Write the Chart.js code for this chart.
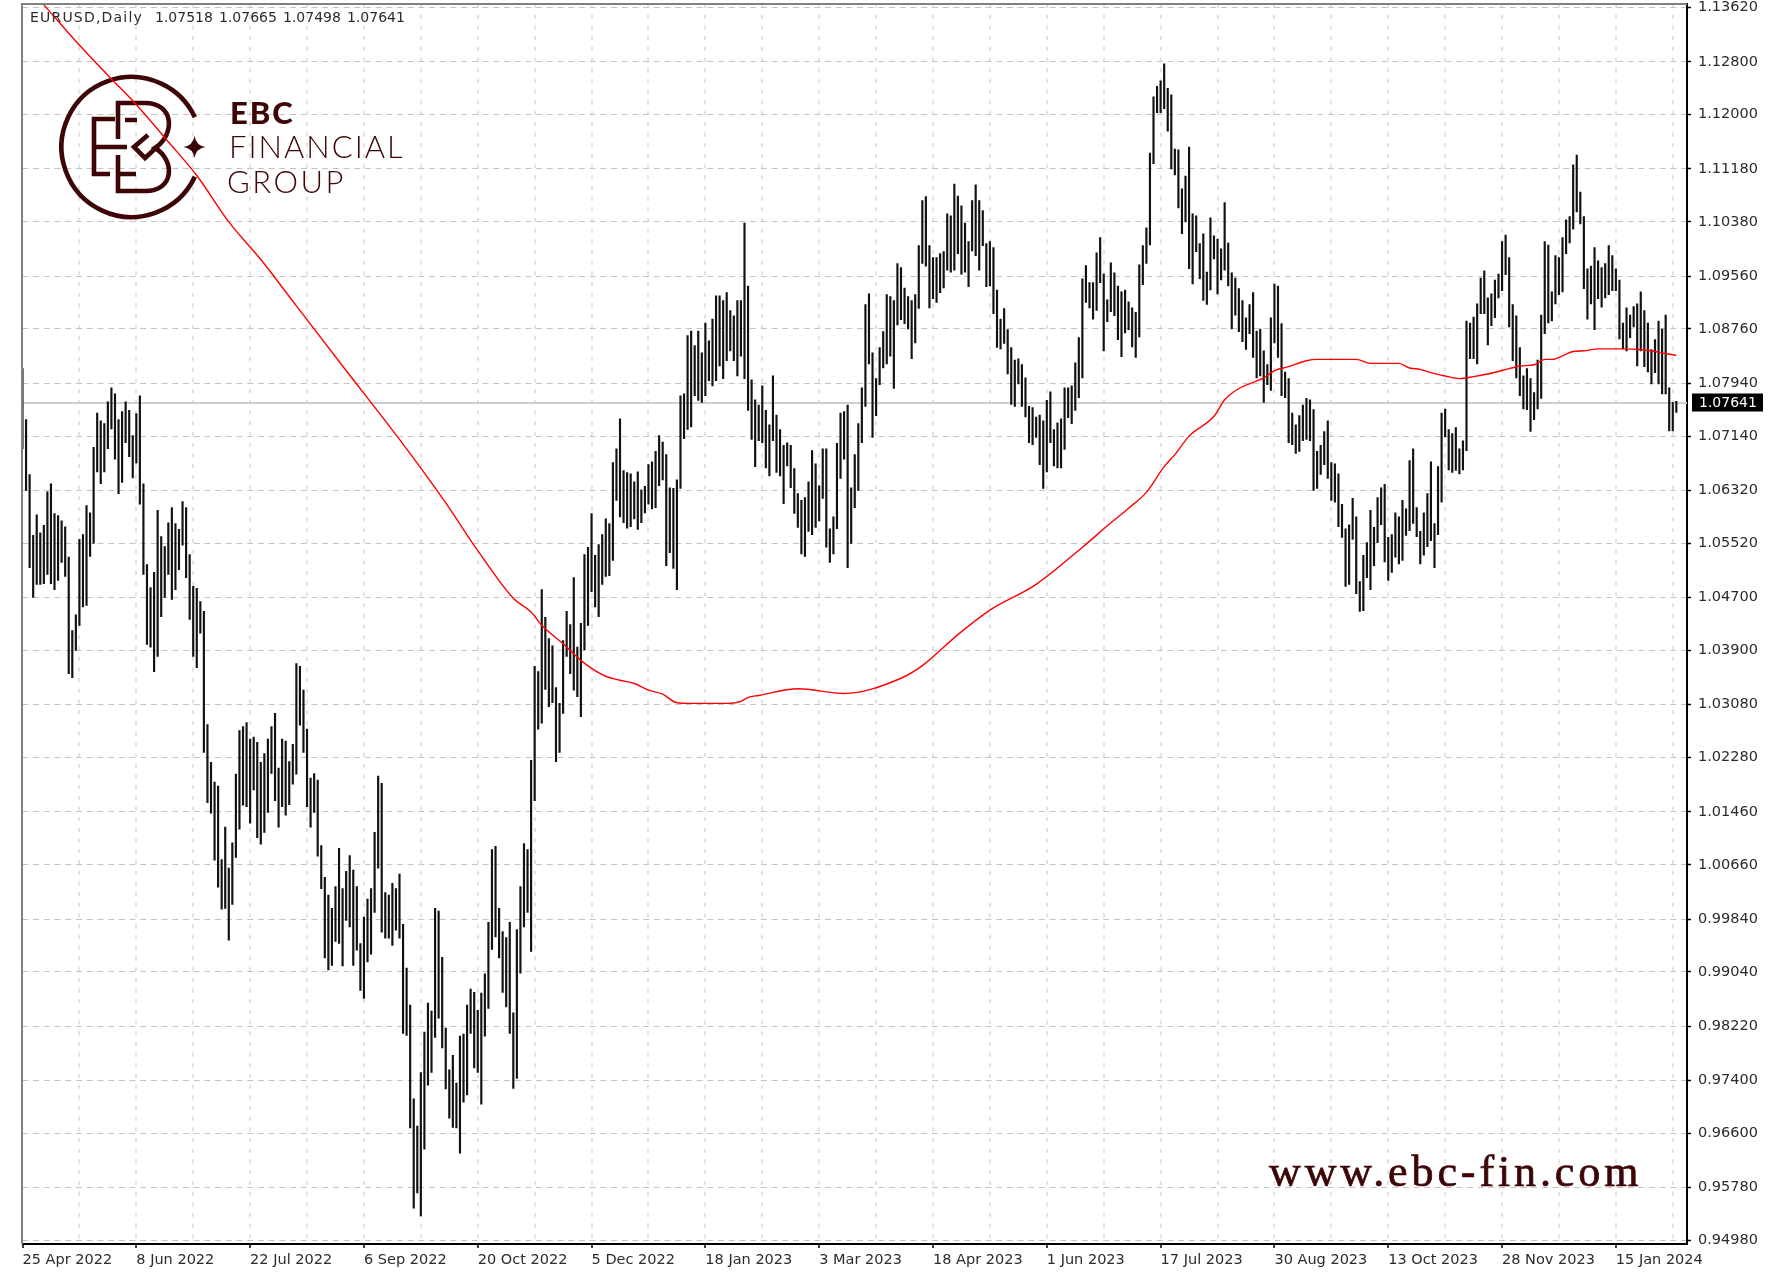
<!DOCTYPE html>
<html lang="en">
<head>
    <meta charset="UTF-8">
    <title>EURUSD Daily</title>
    <style>
        html, body { margin: 0; padding: 0; background: #fff; }
        canvas { display: block; }
    </style>
</head>
<body>
    <canvas id="chart" width="1788" height="1275"></canvas>

    <script src="https://cdn.jsdelivr.net/npm/chart.js"></script>
    <script>
        const tickLabels = ["25 Apr 2022", "8 Jun 2022", "22 Jul 2022", "6 Sep 2022", "20 Oct 2022", "5 Dec 2022", "18 Jan 2023", "3 Mar 2023",
            "18 Apr 2023", "1 Jun 2023", "17 Jul 2023", "30 Aug 2023", "13 Oct 2023", "28 Nov 2023", "15 Jan 2024"];

        const priceTicks = [1.13620, 1.12800, 1.12000, 1.11180, 1.10380, 1.09560, 1.08760, 1.07940, 1.07140, 1.06320, 1.05520, 1.04700,
            1.03900, 1.03080, 1.02280, 1.01460, 1.00660, 0.99840, 0.99040, 0.98220, 0.97400, 0.96600, 0.95780, 0.94980];

        const quote = ["1.07518", "1.07665", "1.07498", "1.07641"];
        const lastClose = 1.07641;

        // daily highs, 16 bars per row (one row = one grid cell)
        const barHigh = [
            1.0816,1.0739,1.0656,1.0564,1.0595,1.0568,1.0579,1.0630,1.0642,1.0597,1.0594,1.0586,1.0577,1.0531,1.0420,1.0444,
            1.0558,1.0565,1.0609,1.0598,1.0697,1.0749,1.0737,1.0733,1.0766,1.0787,1.0778,1.0739,1.0751,1.0766,1.0753,1.0715,
            1.0748,1.0775,1.0642,1.0520,1.0485,1.0508,1.0602,1.0562,1.0547,1.0583,1.0606,1.0582,1.0573,1.0615,1.0606,1.0535,
            1.0487,1.0484,1.0464,1.0449,1.0278,1.0221,1.0191,1.0185,1.0074,1.0123,1.0061,1.0099,1.0203,1.0269,1.0275,1.0281,
            1.0256,1.0259,1.0251,1.0221,1.0234,1.0256,1.0275,1.0295,1.0212,1.0256,1.0253,1.0222,1.0248,1.0370,1.0366,1.0330,
            1.0271,1.0197,1.0204,1.0194,1.0095,1.0047,1.0020,1.0000,1.0033,1.0091,1.0030,1.0056,1.0080,1.0058,1.0033,0.9947,
            0.9987,1.0014,1.0030,1.0115,1.0200,1.0189,1.0024,1.0020,1.0038,1.0030,1.0052,0.9976,0.9910,0.9854,0.9712,0.9671,
            0.9752,0.9813,0.9857,0.9845,1.0000,0.9996,0.9926,0.9819,0.9756,0.9778,0.9736,0.9807,0.9810,0.9854,0.9878,0.9873,
            0.9846,0.9872,0.9901,0.9979,1.0089,1.0094,1.0000,0.9965,0.9956,0.9979,0.9842,0.9968,1.0033,1.0098,1.0089,1.0224,
            1.0366,1.0358,1.0482,1.0440,1.0408,1.0397,1.0334,1.0310,1.0405,1.0449,1.0429,1.0500,1.0395,1.0431,1.0535,1.0546,
            1.0597,1.0534,1.0550,1.0565,1.0589,1.0582,1.0674,1.0695,1.0740,1.0662,1.0659,1.0657,1.0645,1.0660,1.0633,1.0638,
            1.0671,1.0675,1.0691,1.0715,1.0705,1.0686,1.0636,1.0635,1.0648,1.0775,1.0778,1.0866,1.0873,1.0851,1.0873,1.0840,
            1.0885,1.0858,1.0891,1.0926,1.0926,1.0919,1.0931,1.0904,1.0896,1.0919,1.0919,1.1036,1.0941,1.0799,1.0769,1.0761,
            1.0790,1.0753,1.0731,1.0805,1.0746,1.0724,1.0700,1.0704,1.0700,1.0665,1.0627,1.0617,1.0621,1.0645,1.0692,1.0672,
            1.0639,1.0695,1.0695,1.0574,1.0592,1.0703,1.0749,1.0751,1.0761,1.0636,1.0686,1.0733,1.0787,1.0913,1.0929,1.0840,
            1.0801,1.0848,1.0872,1.0928,1.0925,1.0919,1.0975,1.0969,1.0938,1.0925,1.0919,1.0928,1.1002,1.1070,1.1076,1.1002,
            1.0984,1.0984,1.0990,1.0993,1.1050,1.1047,1.1095,1.1077,1.1062,1.1036,1.1008,1.1070,1.1094,1.1070,1.1055,1.1005,
            1.1008,1.0999,1.0935,1.0891,1.0907,1.0875,1.0848,1.0829,1.0831,1.0822,1.0802,1.0759,1.0757,1.0743,1.0746,1.0737,
            1.0768,1.0781,1.0724,1.0734,1.0740,1.0787,1.0787,1.0790,1.0825,1.0863,1.0952,1.0972,1.0946,1.0946,1.0991,1.1014,
            1.0959,1.0920,1.0976,1.0961,1.0941,1.0932,1.0935,1.0917,1.0908,1.0901,1.0973,1.1002,1.1029,1.1142,1.1227,1.1243,
            1.1251,1.1277,1.1240,1.1230,1.1148,1.1147,1.1088,1.1107,1.1151,1.1050,1.1047,1.1005,1.1020,1.0962,1.1044,1.1017,
            1.1012,1.0997,1.1067,1.1006,1.0961,1.0953,1.0937,1.0919,1.0893,1.0913,1.0931,1.0873,1.0876,1.0843,1.0822,1.0893,
            1.0944,1.0941,1.0884,1.0811,1.0801,1.0749,1.0731,1.0745,1.0761,1.0771,1.0769,1.0754,1.0691,1.0700,1.0721,1.0737,
            1.0674,1.0672,1.0657,1.0611,1.0574,1.0580,1.0620,1.0592,1.0494,1.0534,1.0553,1.0602,1.0576,1.0621,1.0636,1.0641,
            1.0561,1.0565,1.0598,1.0592,1.0617,1.0604,1.0677,1.0695,1.0606,1.0570,1.0598,1.0627,1.0675,1.0582,1.0668,1.0749,
            1.0755,1.0724,1.0718,1.0727,1.0695,1.0707,1.0888,1.0885,1.0894,1.0914,1.0953,1.0964,1.0923,1.0929,1.0950,1.0959,
            1.1008,1.1018,1.0984,1.0913,1.0896,1.0848,1.0805,1.0816,1.0801,1.0780,1.0829,1.0897,1.1008,1.1003,1.0932,1.0987,
            1.0984,1.1014,1.1041,1.1046,1.1124,1.1139,1.1083,1.1046,1.0967,1.0971,1.0999,1.0979,1.0969,1.0975,1.1002,1.0987,
            1.0967,1.0950,1.0885,1.0908,1.0897,1.0910,1.0914,1.0932,1.0904,1.0885,1.0845,1.0860,1.0888,1.0876,1.0897,1.0787,
            1.0765,1.07665
        ];

        const barLow = [
            1.0695,1.0632,1.0515,1.0470,1.0490,1.0490,1.0491,1.0505,1.0491,1.0482,1.0496,1.0523,1.0502,1.0355,1.0349,1.0390,
            1.0428,1.0456,1.0458,1.0532,1.0552,1.0660,1.0642,1.0660,1.0695,1.0725,1.0679,1.0627,1.0644,1.0704,1.0683,1.0651,
            1.0673,1.0611,1.0505,1.0399,1.0395,1.0358,1.0381,1.0441,1.0470,1.0505,1.0467,1.0482,1.0512,1.0549,1.0500,1.0437,
            1.0381,1.0364,1.0416,1.0236,1.0160,1.0144,1.0073,1.0032,0.9999,1.0000,0.9952,1.0006,1.0077,1.0120,1.0156,1.0154,
            1.0129,1.0179,1.0107,1.0097,1.0115,1.0145,1.0204,1.0163,1.0123,1.0154,1.0141,1.0157,1.0188,1.0203,1.0277,1.0236,
            1.0154,1.0123,1.0145,1.0079,1.0030,0.9925,0.9907,0.9914,0.9950,0.9947,0.9913,0.9982,0.9972,0.9914,0.9937,0.9876,
            0.9864,0.9919,0.9931,0.9994,1.0061,0.9964,0.9955,0.9955,0.9944,0.9967,0.9955,0.9811,0.9808,0.9668,0.9547,0.9570,
            0.9535,0.9636,0.9733,0.9752,0.9805,0.9834,0.9789,0.9727,0.9683,0.9669,0.9668,0.9630,0.9707,0.9718,0.9811,0.9759,
            0.9752,0.9704,0.9807,0.9849,0.9938,0.9957,0.9925,0.9873,0.9851,0.9811,0.9728,0.9743,0.9902,0.9972,0.9994,0.9935,
            1.0163,1.0271,1.0280,1.0331,1.0305,1.0311,1.0222,1.0236,1.0295,1.0381,1.0355,1.0330,1.0320,1.0290,1.0391,1.0428,
            1.0479,1.0456,1.0441,1.0490,1.0502,1.0503,1.0526,1.0617,1.0592,1.0583,1.0575,1.0577,1.0589,1.0573,1.0583,1.0598,
            1.0611,1.0604,1.0606,1.0639,1.0648,1.0518,1.0538,1.0514,1.0482,1.0635,1.0710,1.0724,1.0728,1.0775,1.0768,1.0765,
            1.0775,1.0798,1.0790,1.0798,1.0820,1.0801,1.0828,1.0843,1.0828,1.0805,1.0835,1.0801,1.0753,1.0709,1.0668,1.0707,
            1.0704,1.0666,1.0654,1.0707,1.0659,1.0654,1.0612,1.0669,1.0636,1.0597,1.0576,1.0536,1.0532,1.0570,1.0565,1.0576,
            1.0586,1.0620,1.0546,1.0523,1.0536,1.0574,1.0650,1.0679,1.0515,1.0552,1.0606,1.0632,1.0704,1.0759,1.0823,1.0712,
            1.0745,1.0792,1.0817,1.0823,1.0835,1.0786,1.0882,1.0890,1.0884,1.0876,1.0831,1.0855,1.0907,1.0975,1.0971,1.0908,
            1.0922,1.0916,1.0931,1.0938,1.0965,1.0962,1.0965,1.0990,1.0959,1.0962,1.0940,1.0994,1.0987,1.0965,1.1002,1.0940,
            1.0941,1.0899,1.0848,1.0846,1.0854,1.0808,1.0762,1.0759,1.0793,1.0759,1.0743,1.0704,1.0701,1.0712,1.0671,1.0635,
            1.0660,1.0704,1.0669,1.0666,1.0666,1.0694,1.0742,1.0733,1.0753,1.0772,1.0802,1.0916,1.0908,1.0891,1.0904,1.0946,
            1.0843,1.0887,1.0902,1.0896,1.0860,1.0834,1.0870,1.0875,1.0849,1.0833,1.0864,1.0943,1.0975,1.1003,1.1126,1.1203,
            1.1203,1.1209,1.1175,1.1118,1.1109,1.1059,1.1020,1.1038,1.0967,1.0944,1.0993,1.0952,1.0919,1.0913,1.0935,1.0982,
            1.0929,1.0950,1.0965,1.0941,1.0876,1.0897,1.0872,1.0857,1.0845,1.0869,1.0833,1.0802,1.0805,1.0765,1.0792,1.0783,
            1.0855,1.0833,1.0775,1.0772,1.0704,1.0701,1.0688,1.0691,1.0707,1.0709,1.0707,1.0632,1.0635,1.0656,1.0671,1.0650,
            1.0617,1.0614,1.0577,1.0561,1.0487,1.0490,1.0558,1.0476,1.0449,1.0450,1.0500,1.0482,1.0518,1.0553,1.0580,1.0524,
            1.0496,1.0508,1.0531,1.0521,1.0526,1.0564,1.0571,1.0582,1.0562,1.0521,1.0534,1.0547,1.0556,1.0515,1.0565,1.0614,
            1.0713,1.0663,1.0659,1.0662,1.0657,1.0663,1.0692,1.0831,1.0831,1.0823,1.0899,1.0899,1.0852,1.0881,1.0893,1.0923,
            1.0934,1.0958,1.0879,1.0828,1.0802,1.0775,1.0755,1.0754,1.0721,1.0739,1.0755,1.0771,1.0869,1.0885,1.0888,1.0914,
            1.0928,1.0932,1.0990,1.1006,1.1027,1.1053,1.1035,1.0937,1.0891,1.0914,1.0875,1.0922,1.0909,1.0923,1.0928,1.0934,
            1.0934,1.0861,1.0846,1.0843,1.0863,1.0879,1.0820,1.0843,1.0819,1.0811,1.0793,1.0810,1.0793,1.0778,1.0778,1.0722,
            1.0722,1.07498
        ];

        const maBars = [6,15,25,31,41,49,58,67,77,90,106,119,128,138,143,146,152,157,160,164,168,172,176,180,184,188,198,202,204,207,218,231,247,253,263,272,
            285,298,306,311,316,321,324,328,335,338,342,349,352,356,361,364,375,379,387,390,393,396,400,404,408,412,418,421,425,428,430,436,439,443,450,455,462,465];
        const maValues = [1.1366,1.1311,1.1254,1.1221,1.1159,1.1108,1.1038,1.0981,1.0911,1.0820,1.0709,1.0613,1.0541,1.0469,1.0448,1.0428,1.0400,1.0375,1.0363,1.0351,1.0345,1.0340,1.0330,1.0324,1.0311,1.0310,1.0310,1.0313,1.0319,1.0322,1.0332,1.0325,1.0348,1.0367,1.0414,1.0451,
            1.0490,1.0546,1.0583,1.0605,1.0629,1.0668,1.0686,1.0714,1.0744,1.0769,1.0786,1.0802,1.0813,1.0819,1.0828,1.0830,1.0830,1.0824,1.0824,1.0817,1.0815,1.0810,1.0805,1.0801,1.0804,1.0808,1.0816,1.0820,1.0822,1.0830,1.0830,1.0842,1.0843,1.0846,1.0846,1.0845,1.0839,1.0836];

        const emptyBars = 3; // gap between the last bar and the price axis
        const barsPerGrid = 16;
        const maroon = "#3d0505";
        const axisFont = { family: "'DejaVu Sans'", size: 14.5 };

        const categories = [];
        for (let i = 0; i < barHigh.length + emptyBars; i++) categories.push(i);

        const barData = barLow.map((low, i) => [low, barHigh[i]]);
        const maData = categories.map(() => null);
        maBars.forEach((bar, i) => { maData[bar] = maValues[i]; });

        function drawLogo(ctx) {
            ctx.save();
            ctx.strokeStyle = maroon;
            ctx.fillStyle = maroon;
            ctx.lineWidth = 4.6;
            ctx.lineJoin = "miter";

            // open ring
            ctx.beginPath();
            ctx.arc(131.5, 147, 70, 0.44, Math.PI * 2 - 0.44);
            ctx.stroke();

            // E
            ctx.beginPath();
            ctx.moveTo(115, 119);
            ctx.lineTo(94, 119);
            ctx.lineTo(94, 174);
            ctx.lineTo(110, 174);
            ctx.moveTo(94, 147);
            ctx.lineTo(127, 147);
            ctx.moveTo(125, 120);
            ctx.lineTo(137, 120);
            ctx.moveTo(118, 174);
            ctx.lineTo(136, 174);
            ctx.stroke();

            // B
            ctx.beginPath();
            ctx.moveTo(118, 139);
            ctx.lineTo(118, 103);
            ctx.lineTo(145, 103);
            ctx.bezierCurveTo(175, 103, 175, 135, 155, 148);
            ctx.bezierCurveTo(175, 160, 175, 191, 145, 191);
            ctx.lineTo(118, 191);
            ctx.lineTo(118, 155);
            ctx.stroke();

            // hook in the middle of the B
            ctx.beginPath();
            ctx.moveTo(148, 135);
            ctx.lineTo(134, 147);
            ctx.lineTo(145, 158);
            ctx.lineTo(158, 146);
            ctx.stroke();

            // star
            ctx.beginPath();
            ctx.moveTo(194.5, 136);
            ctx.quadraticCurveTo(196, 145.5, 205.5, 147);
            ctx.quadraticCurveTo(196, 148.5, 194.5, 158);
            ctx.quadraticCurveTo(193, 148.5, 183.5, 147);
            ctx.quadraticCurveTo(193, 145.5, 194.5, 136);
            ctx.fill();

            ctx.textBaseline = "alphabetic";
            ctx.textAlign = "left";
            ctx.letterSpacing = "2px";
            ctx.font = "900 31px Lato";
            ctx.fillText("EBC", 230, 124);
            ctx.letterSpacing = "2px";
            ctx.font = "300 31px Lato";
            ctx.fillText("FINANCIAL", 229, 158);
            ctx.letterSpacing = "2.5px";
            ctx.fillText("GROUP", 227, 193);
            ctx.letterSpacing = "0px";
            ctx.restore();
        }

        // logo under the marks, price line under the marks, frame and price tag on top
        const chartDecor = {
            id: "chartDecor",
            beforeDatasetsDraw(chart) {
                const { ctx, chartArea, scales } = chart;
                drawLogo(ctx);

                const y = scales.y.getPixelForValue(lastClose);
                ctx.save();
                ctx.strokeStyle = "#cfcfcf";
                ctx.lineWidth = 2;
                ctx.beginPath();
                ctx.moveTo(chartArea.left, y);
                ctx.lineTo(chartArea.right, y);
                ctx.stroke();
                ctx.restore();
            },
            afterDraw(chart) {
                const { ctx, chartArea, scales } = chart;
                ctx.save();

                ctx.strokeStyle = "#808080";
                ctx.lineWidth = 2;
                ctx.beginPath();
                ctx.moveTo(22, chartArea.bottom);
                ctx.lineTo(22, chartArea.top);
                ctx.lineTo(chartArea.right, chartArea.top);
                ctx.stroke();

                ctx.fillStyle = "#2b2b2b";
                ctx.textBaseline = "middle";
                ctx.textAlign = "left";
                ctx.font = "14px 'DejaVu Sans'";
                ctx.letterSpacing = "1.2px";
                ctx.fillText("EURUSD,Daily", 30, 18);
                ctx.letterSpacing = "0px";
                const quoteX = [155, 219, 283, 347];
                quote.forEach((text, i) => ctx.fillText(text, quoteX[i], 18));

                const y = scales.y.getPixelForValue(lastClose);
                ctx.fillStyle = "#000000";
                ctx.fillRect(1692, y - 9.5, 71, 18);
                ctx.fillStyle = "#ffffff";
                ctx.fillText(quote[3], 1699, y);

                ctx.fillStyle = maroon;
                ctx.strokeStyle = maroon;
                ctx.lineWidth = 0.7;
                ctx.font = "44px 'Liberation Serif'";
                ctx.letterSpacing = "3.9px";
                ctx.textBaseline = "alphabetic";
                ctx.fillText("www.ebc-fin.com", 1269, 1186);
                ctx.strokeText("www.ebc-fin.com", 1269, 1186);
                ctx.letterSpacing = "0px";
                ctx.restore();
            }
        };

        new Chart(document.getElementById("chart"), {
            data: {
                labels: categories,
                datasets: [
                    {
                        type: "line",
                        data: maData,
                        borderColor: "#ff0000",
                        borderWidth: 1.4,
                        pointRadius: 0,
                        spanGaps: true,
                        cubicInterpolationMode: "monotone",
                        order: 1
                    },
                    {
                        type: "bar",
                        data: barData,
                        backgroundColor: "#111111",
                        barThickness: 1.5,
                        order: 2
                    }
                ]
            },
            options: {
                responsive: false,
                animation: false,
                layout: { padding: { left: 22.5, top: 4, right: 0, bottom: 0 } },
                plugins: { legend: { display: false }, tooltip: { enabled: false } },
                scales: {
                    x: {
                        type: "category",
                        offset: false,
                        afterBuildTicks(scale) {
                            scale.ticks = scale.ticks.filter(t => t.value % barsPerGrid === 0);
                        },
                        afterFit(scale) {
                            scale.height = 31;
                            scale.paddingLeft = 0;
                            scale.paddingRight = 0;
                        },
                        ticks: {
                            autoSkip: false,
                            maxRotation: 0,
                            minRotation: 0,
                            align: "start",
                            padding: 4,
                            color: "#2b2b2b",
                            font: axisFont,
                            callback(value, index) {
                                return index % 2 === 0 ? (tickLabels[index / 2] || "") : "";
                            }
                        },
                        grid: {
                            offset: false,
                            lineWidth: 2,
                            tickLength: 4,
                            tickWidth: 1.5,
                            color(c) { return c.index === 0 ? "transparent" : "#e2e2e2"; },
                            tickColor(c) { return c.index % 2 === 0 ? "#000000" : "transparent"; }
                        },
                        border: { color: "#000000", width: 2, dash: [4, 6.7] }
                    },
                    y: {
                        type: "linear",
                        position: "right",
                        min: 0.94927,
                        max: 1.13673,
                        bounds: "data",
                        afterBuildTicks(scale) {
                            scale.ticks = priceTicks.map(value => ({ value }));
                        },
                        afterFit(scale) {
                            scale.width = 101;
                            scale.paddingTop = 0;
                            scale.paddingBottom = 0;
                        },
                        ticks: {
                            autoSkip: false,
                            padding: 7,
                            color: "#2b2b2b",
                            font: axisFont,
                            callback(value) { return value.toFixed(5); }
                        },
                        grid: {
                            lineWidth: 1,
                            tickLength: 4,
                            tickWidth: 1.5,
                            color: "#c4c4c4",
                            tickColor: "#000000"
                        },
                        border: { color: "#000000", width: 2, dash: [6, 4.7] }
                    }
                }
            },
            plugins: [chartDecor]
        });
    </script>
</body>
</html>
